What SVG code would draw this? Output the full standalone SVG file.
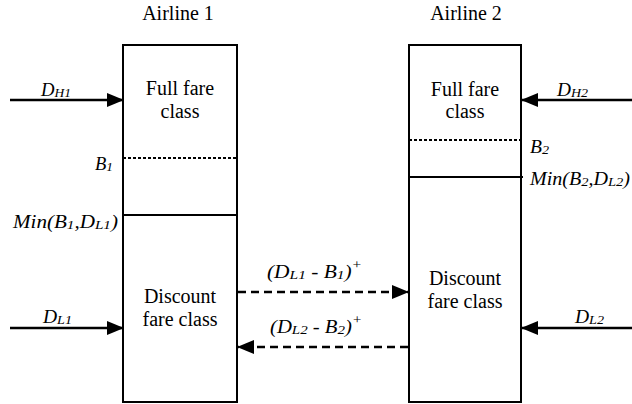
<svg xmlns="http://www.w3.org/2000/svg" width="632" height="404" viewBox="0 0 632 404">
<style>
.t{font-family:'Liberation Serif','Tinos','Times New Roman','Noto Serif','DejaVu Serif',serif;font-size:20px;text-anchor:middle;fill:#000}
.it{font-family:'Liberation Serif','Tinos','Times New Roman','Noto Serif','DejaVu Serif',serif;font-size:18px;font-style:italic;fill:#000}
.sub{font-size:13px}
.box{fill:#fff;stroke:#000;stroke-width:2}
.div{stroke:#000;stroke-width:2}
.dot{stroke:#000;stroke-width:2;stroke-dasharray:3,2}
.arr{stroke:#000;stroke-width:2.5;fill:none}
.dash{stroke:#000;stroke-width:2.5;fill:none;stroke-dasharray:8,5}
</style>
<defs>
<marker id="ah" markerWidth="17" markerHeight="14" refX="16" refY="7" orient="auto" markerUnits="userSpaceOnUse"><path d="M0,0 L17,7 L0,14 z" fill="#000"/></marker>
</defs>
<g id="title1"><text class="t" x="178" y="20">Airline 1</text></g>
<g id="title2"><text class="t" x="466" y="20">Airline 2</text></g>
<g id="airline1">
<rect class="box" x="123" y="45" width="114" height="357"/>
<line class="dot" x1="123" y1="158" x2="237" y2="158"/>
<line class="div" x1="123" y1="215" x2="237" y2="215"/>
<text class="t" x="180" y="95">Full fare</text>
<text class="t" x="180" y="118">class</text>
<text class="t" x="180" y="303">Discount</text>
<text class="t" x="180" y="326">fare class</text>
</g>
<g id="airline2">
<rect class="box" x="409" y="45" width="112" height="357"/>
<line class="dot" x1="409" y1="140" x2="521" y2="140"/>
<line class="div" x1="409" y1="177" x2="523" y2="177"/>
<text class="t" x="465" y="96">Full fare</text>
<text class="t" x="465" y="118">class</text>
<text class="t" x="465" y="285">Discount</text>
<text class="t" x="465" y="308">fare class</text>
</g>
<g id="connectors">
<line class="arr" x1="10" y1="100" x2="123" y2="100" marker-end="url(#ah)"/>
<line class="arr" x1="632" y1="100" x2="522" y2="100" marker-end="url(#ah)"/>
<line class="arr" x1="10" y1="328" x2="123" y2="328" marker-end="url(#ah)"/>
<line class="arr" x1="632" y1="328" x2="522" y2="328" marker-end="url(#ah)"/>
<line class="dash" x1="238" y1="292" x2="408" y2="292" marker-end="url(#ah)"/>
<line class="dash" x1="408" y1="347" x2="238" y2="347" marker-end="url(#ah)"/>
</g>
<g id="labels">
<text class="it" x="41" y="96" textLength="30" lengthAdjust="spacingAndGlyphs">D<tspan class="sub" dy="1">H1</tspan></text>
<text class="it" x="557" y="96" textLength="31" lengthAdjust="spacingAndGlyphs">D<tspan class="sub" dy="1">H2</tspan></text>
<text class="it" x="43" y="323" textLength="29" lengthAdjust="spacingAndGlyphs">D<tspan class="sub" dy="1">L1</tspan></text>
<text class="it" x="575" y="323" textLength="29" lengthAdjust="spacingAndGlyphs">D<tspan class="sub" dy="1">L2</tspan></text>
<text class="it" x="95" y="170" textLength="18" lengthAdjust="spacingAndGlyphs">B<tspan class="sub" dy="1">1</tspan></text>
<text class="it" x="530" y="153" textLength="19" lengthAdjust="spacingAndGlyphs">B<tspan class="sub" dy="1">2</tspan></text>
<text class="it" x="13" y="228" textLength="105" lengthAdjust="spacingAndGlyphs">Min(B<tspan class="sub" dy="1">1</tspan><tspan dy="-1">,D</tspan><tspan class="sub" dy="1">L1</tspan><tspan dy="-1">)</tspan></text>
<text class="it" x="530" y="185" textLength="100" lengthAdjust="spacingAndGlyphs">Min(B<tspan class="sub" dy="1">2</tspan><tspan dy="-1">,D</tspan><tspan class="sub" dy="1">L2</tspan><tspan dy="-1">)</tspan></text>
<text class="it" x="267" y="278" textLength="95" lengthAdjust="spacingAndGlyphs">(D<tspan class="sub" dy="1">L1</tspan><tspan dy="-1"> - B</tspan><tspan class="sub" dy="1">1</tspan><tspan dy="-1">)</tspan><tspan class="sub" dy="-9">+</tspan></text>
<text class="it" x="270" y="333" textLength="92" lengthAdjust="spacingAndGlyphs">(D<tspan class="sub" dy="1">L2</tspan><tspan dy="-1"> - B</tspan><tspan class="sub" dy="1">2</tspan><tspan dy="-1">)</tspan><tspan class="sub" dy="-9">+</tspan></text>
</g>
</svg>
